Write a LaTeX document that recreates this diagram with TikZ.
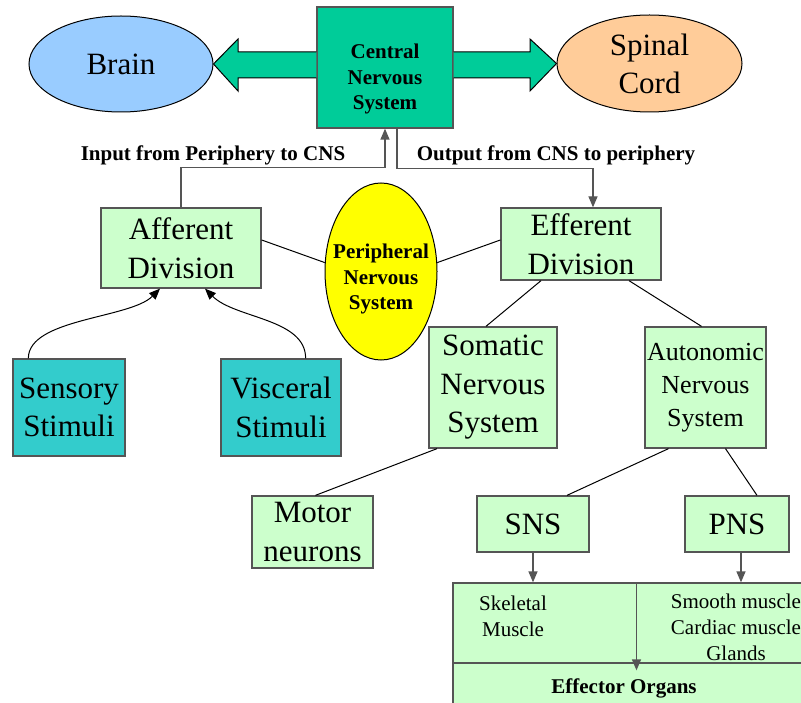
\documentclass[tikz,border=0pt]{standalone}
\usepackage{fontspec}
\setmainfont{Liberation Serif}
\usetikzlibrary{shapes.geometric,arrows.meta}

\definecolor{BrainColor}{RGB}{153,204,255}
\definecolor{CordColor}{RGB}{255,204,153}
\definecolor{CNSColor}{RGB}{0,204,153}
\definecolor{DivisionColor}{RGB}{204,255,204}
\definecolor{StimulusColor}{RGB}{51,204,204}
\definecolor{PNSColor}{RGB}{255,255,0}
\definecolor{BorderColor}{RGB}{85,85,85}
\tikzstyle{ns-base}=[rectangle,
                     draw=BorderColor,
                     line width=1.3pt,
                     text centered,
                     align=center,
                     inner sep=0pt,
                     font=\fontsize{31}{38.5}\selectfont
                    ]
\tikzstyle{division}=[ns-base, fill=DivisionColor]
\tikzstyle{stimulus}=[ns-base, fill=StimulusColor]
\tikzstyle{cns-box}=[ns-base, fill=CNSColor]
\tikzstyle{organ}=[ellipse,
                   draw=black,
                   line width=1pt,
                   inner sep=0pt,
                   align=center,
                   font=\fontsize{31}{38}\selectfont]
\tikzstyle{bold-text}=[align=center, inner sep=0pt, font=\bfseries\fontsize{21}{25.5}\selectfont]
\tikzstyle{small-text}=[align=center, inner sep=0pt, font=\fontsize{21}{26}\selectfont]
\tikzstyle{big-arrow}=[draw=black, line width=1pt, fill=CNSColor, line join=miter]
\tikzstyle{link}=[draw=black, line width=1pt]
\tikzstyle{flow}=[draw=BorderColor, line width=1.3pt, ->]
\tikzset{>={Triangle[length=11pt,width=9pt]}}

\begin{document}
\begin{tikzpicture}[x=1pt, y=-1pt]
    \useasboundingbox (0,0) rectangle (801,703);
    \clip (0,0) rectangle (801,703);

    % Central nervous system
    % --------------------------------------------------------------------------
    \node at (121,  64)   (brain)    [organ, fill=BrainColor, minimum width=184, minimum height=96] {Brain};
    \node at (649.5, 63.5) (cord)    [organ, fill=CordColor, minimum width=185, minimum height=97] {Spinal\\Cord};
    \node at (385,  67.5) (cns)      [cns-box, minimum width=136, minimum height=121] {};
    \node at (385,  79)   (cns_text) [bold-text] {Central\\Nervous\\System};

    \draw[big-arrow] (cns.west |- 0,52) -- (238,52) -- (238,39) -- (brain.east)
                     -- (238,91) -- (238,78) -- (cns.west |- 0,78);
    \draw[big-arrow] (cns.east |- 0,52) -- (530,52) -- (530,39) -- (cord.west)
                     -- (530,91) -- (530,78) -- (cns.east |- 0,78);

    \node at (213, 155) (input_text)  [bold-text] {Input from Periphery to CNS};
    \node at (556, 155) (output_text) [bold-text] {Output from CNS to periphery};

    % Peripheral nervous system
    % --------------------------------------------------------------------------
    \node at (181, 248)   (afferent) [division, minimum width=160, minimum height=80] {Afferent\\Division};
    \node at (581, 244)   (efferent) [division, minimum width=160, minimum height=72] {Efferent\\Division};
    \node at (381, 271.5) (pns)      [organ, fill=PNSColor, minimum width=112, minimum height=177] {};
    \node at (381, 279)   (pns_text) [bold-text] {Peripheral\\Nervous\\System};

    \node at ( 69, 407.5) (sensory)  [stimulus, minimum width=112, minimum height=97] {Sensory\\Stimuli};
    \node at (281, 407.5) (visceral) [stimulus, minimum width=120, minimum height=97] {Visceral\\Stimuli};

    \node at (493,   387.5) (somatic)   [division, minimum width=128, minimum height=121] {Somatic\\Nervous\\System};
    \node at (705.5, 387.5) (autonomic) [division, minimum width=121, minimum height=121,
                                         font=\fontsize{26}{33}\selectfont] {Autonomic\\Nervous\\System};

    \node at (312.5, 532) (motor) [division, minimum width=121, minimum height=72] {Motor\\neurons};
    \node at (533,   524) (sns)   [division, minimum width=112, minimum height=56] {SNS};
    \node at (737,   524) (para)  [division, minimum width=104, minimum height=56] {PNS};

    % Effector organs
    % --------------------------------------------------------------------------
    \node at (636.5, 623) (organs)   [division, minimum width=367, minimum height=80] {};
    \node at (636.5, 688) (effector) [division, minimum width=367, minimum height=50] {};
    \node at (513, 616) (skeletal_text) [small-text] {Skeletal\\Muscle};
    \node at (736, 627) (smooth_text)   [small-text] {Smooth muscle\\Cardiac muscle\\Glands};
    \node at (624, 688) (effector_text) [bold-text] {Effector Organs};

    % Lines
    % --------------------------------------------------------------------------
    \draw[link] ([yshift=8pt]afferent.east) -- (pns.171);
    \draw[link] ([yshift=4pt]efferent.west) -- (pns.9);
    \draw[link] ([xshift=-40pt]efferent.south) -- ([xshift=-7pt]somatic.north);
    \draw[link] ([xshift=48pt]efferent.south)  -- ([xshift=-4pt]autonomic.north);
    \draw[link] ([xshift=-56pt]somatic.south)  -- ([xshift=3pt]motor.north);
    \draw[link] ([xshift=-37pt]autonomic.south) -- ([xshift=34pt]sns.north);
    \draw[link] ([xshift=20pt]autonomic.south)  -- ([xshift=20pt]para.north);

    % Arrows
    % --------------------------------------------------------------------------
    \draw[flow] (afferent.north) -- ++(0,-40) -| (cns.south);
    \draw[flow] ([xshift=12pt]cns.south) -- ++(0,40) -| ([xshift=12pt]efferent.north);

    \draw[link, ->] ([xshift=16pt]sensory.north west) .. controls +(0,-40) and +(-30,30) .. ([xshift=-21pt]afferent.south);
    \draw[link, ->] ([xshift=-36pt]visceral.north east) .. controls +(0,-40) and +(30,30) .. ([xshift=24pt]afferent.south);

    \draw[flow] (sns.south) -- (sns.south |- organs.north);
    \draw[flow] ([xshift=4pt]para.south) -- ([xshift=4pt]para.south |- organs.north);
    \draw[flow] (organs.north) -- ([yshift=-8pt]effector.north);
\end{tikzpicture}
\end{document}
